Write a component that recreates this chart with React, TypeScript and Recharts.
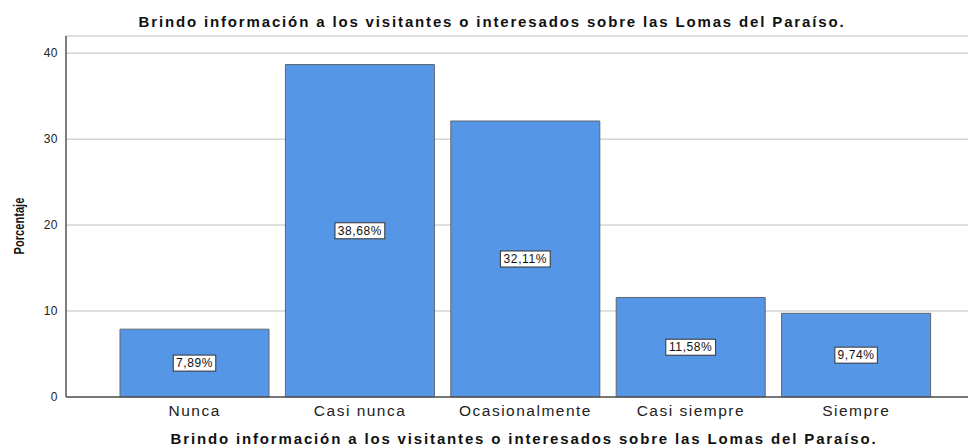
import React from "react";
import { BarChart, Bar, XAxis, YAxis, CartesianGrid, LabelList } from "recharts";

const categories = ["Nunca", "Casi nunca", "Ocasionalmente", "Casi siempre", "Siempre"];
const percentages = [7.89, 38.68, 32.11, 11.58, 9.74];
const yTicks = [0, 10, 20, 30, 40];

const title = "Brindo información a los visitantes o interesados sobre las Lomas del Paraíso.";

const data = categories.map((name, i) => ({ name, value: percentages[i] }));

const fmt = (v: number) => v.toFixed(2).replace(".", ",") + "%";

const BoxLabel = (props: any) => {
  const { x, y, width, height, value } = props;
  const cx = x + width / 2;
  const cy = y + height / 2;
  const text = fmt(value);
  const w = text.length * 7.3 + 6;
  return (
    <g>
      <rect x={cx - w / 2} y={cy - 8} width={w} height={16} fill="#fff" stroke="#333" strokeWidth={1} />
      <text x={cx} y={cy + 4} textAnchor="middle" fontSize={12} letterSpacing={0.6} fill="#111" fontFamily="Liberation Sans, Arial, sans-serif">
        {text}
      </text>
    </g>
  );
};

const App = () => {
  return (
    <div style={{ position: "fixed", top: 0, left: 0, width: 970, height: 448, background: "#fff", fontFamily: "Liberation Sans, Arial, sans-serif" }}>
      <div style={{ position: "absolute", top: 13, left: 0, width: 984, textAlign: "center", fontWeight: "bold", fontSize: 15, letterSpacing: 1.85, color: "#111" }}>
        {title}
      </div>
      <div style={{ position: "absolute", top: 430, left: 20, width: 1008, textAlign: "center", fontWeight: "bold", fontSize: 15, letterSpacing: 1.85, color: "#111" }}>
        {title}
      </div>
      <div style={{ position: "absolute", left: 18, top: 226, transform: "translate(-50%, -50%) rotate(-90deg) scaleX(0.74)", fontWeight: "bold", fontSize: 15, color: "#111", whiteSpace: "nowrap" }}>
        Porcentaje
      </div>
      <div style={{ position: "absolute", top: 0, left: 0 }}>
        <BarChart width={970} height={448} data={data} margin={{ top: 36, right: 2, bottom: 31, left: 0 }}>
          <CartesianGrid vertical={false} stroke="#d4d4d4" strokeWidth={1.5} />
          <XAxis
            dataKey="name"
            height={20}
            axisLine={{ stroke: "#555", strokeWidth: 1.5 }}
            tickLine={false}
            padding={{ left: 46, right: 29 }}
            tick={{ fontSize: 15.5, letterSpacing: 1.5, fill: "#222", fontFamily: "Liberation Sans, Arial, sans-serif" }}
            tickMargin={2}
          />
          <YAxis
            width={66}
            domain={[0, 42]}
            ticks={yTicks}
            axisLine={{ stroke: "#555", strokeWidth: 1.5 }}
            tickLine={false}
            tick={{ fontSize: 12, letterSpacing: 0.5, fill: "#222", fontFamily: "Liberation Sans, Arial, sans-serif" }}
            tickMargin={2}
          />
          <Bar dataKey="value" fill="#5596e6" stroke="#5d6670" strokeWidth={1} barSize={149} isAnimationActive={false}>
            <LabelList dataKey="value" content={BoxLabel} />
          </Bar>
        </BarChart>
      </div>
    </div>
  );
};

export default App;
